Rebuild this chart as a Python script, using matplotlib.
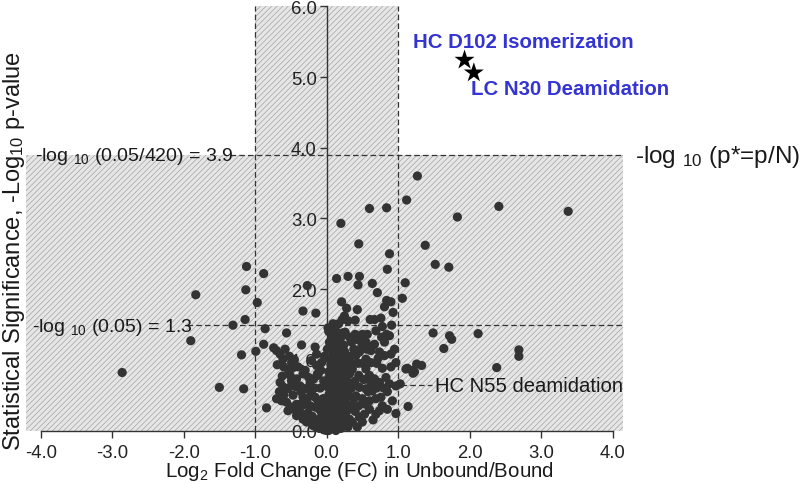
import matplotlib
matplotlib.use("Agg")
import matplotlib.pyplot as plt
from matplotlib.patches import Polygon

plt.rcParams['font.family'] = ['Liberation Sans', 'DejaVu Sans']
plt.rcParams['mathtext.fontset'] = 'custom'
plt.rcParams['mathtext.rm'] = 'Liberation Sans'
plt.rcParams['mathtext.it'] = 'Liberation Sans'
plt.rcParams['mathtext.bf'] = 'Liberation Sans:bold'
plt.rcParams['mathtext.default'] = 'regular'
plt.rcParams['hatch.color'] = '#a3a3a3'
plt.rcParams['hatch.linewidth'] = 0.5

# ---------------- data: (log2 FC, -log10 p) ----------------
pts_outer = [
    (0.20, 2.93), (0.60, 3.14), (0.84, 3.15), (1.12, 3.26), (1.27, 3.60), (1.83, 3.02), (2.41, 3.17), (3.38, 3.10),
    (0.45, 2.64), (0.88, 2.50), (0.85, 2.28), (1.38, 2.62), (1.52, 2.35), (1.71, 2.31), (1.10, 2.09), (1.06, 1.87),
    (1.49, 1.38), (1.72, 1.34), (1.75, 1.29), (2.12, 1.37), (1.64, 1.16), (2.69, 1.14), (2.69, 1.05), (2.38, 0.89),
    (1.13, 0.88), (1.23, 0.83), (1.26, 0.94), (1.33, 0.92), (1.21, 0.81), (1.14, 0.34), (1.03, 0.66),
    (1.11, 0.87), (1.20, 0.85),
]
pts_right = [
    (0.14, 2.15), (0.30, 2.18), (0.46, 2.18), (0.44, 2.06), (0.64, 2.08), (0.71, 1.95), (0.84, 1.84), (0.90, 1.82),
    (0.81, 1.75), (0.21, 1.82), (0.28, 1.73), (0.43, 1.71), (0.25, 1.62), (0.22, 1.57), (0.40, 1.56), (0.61, 1.57),
    (0.67, 1.57), (0.76, 1.59), (0.17, 1.51), (0.78, 1.47), (0.91, 1.49), (0.93, 1.67), (0.30, 1.55), (0.09, 1.51),
    (0.14, 1.39), (0.20, 1.32), (0.26, 1.39), (0.08, 1.29), (0.32, 1.32), (0.40, 1.36), (0.50, 1.36), (0.57, 1.36),
    (0.69, 1.41), (0.88, 1.34), (0.81, 1.25), (0.67, 1.22), (0.49, 1.18), (0.56, 1.15), (0.65, 1.20), (0.77, 1.32),
    (0.84, 1.36), (0.62, 1.13), (0.74, 1.11), (0.81, 1.06), (0.90, 1.08), (0.97, 0.96), (0.46, 1.11), (0.41, 1.06),
    (0.55, 1.01), (0.62, 0.96), (0.13, 1.11), (0.22, 1.04), (0.29, 1.01),
    (0.36, 0.87), (0.55, 0.87), (0.60, 0.78), (0.67, 0.73), (0.74, 0.68), (0.88, 0.66), (0.97, 0.63), (0.46, 0.61),
    (0.55, 0.59), (0.64, 0.56), (0.41, 0.49), (0.50, 0.45), (0.60, 0.42), (0.69, 0.45), (0.76, 0.47), (0.92, 0.42),
    (0.97, 0.24), (0.78, 0.35), (0.74, 0.28), (0.69, 0.23), (0.60, 0.30), (0.53, 0.23), (0.46, 0.19), (0.27, 0.26),
    (0.32, 0.16), (0.36, 0.12),
    (0.35, 1.25), (0.45, 1.28), (0.55, 1.25), (0.38, 1.15), (0.33, 1.05), (0.50, 0.95), (0.70, 0.95), (0.78, 0.88),
    (0.45, 0.78), (0.52, 0.72), (0.40, 0.70), (0.80, 0.60), (0.85, 0.55), (0.70, 0.60), (0.45, 0.35), (0.55, 0.37),
    (0.40, 0.27), (0.65, 0.15), (0.50, 0.12), (0.43, 0.05), (0.85, 0.30), (0.62, 0.68), (0.72, 1.02), (0.35, 0.95),
    (0.44, 0.95), (0.58, 0.55), (0.90, 0.90), (0.95, 1.15), (0.83, 0.75), (0.35, 0.35),
]
pts_core = [
    (0.05, 1.22), (0.12, 1.18), (0.18, 1.12), (0.04, 1.02), (0.15, 0.96), (0.22, 0.90), (0.08, 0.86), (0.17, 0.80),
    (0.03, 0.74), (0.12, 0.70), (0.20, 0.64), (0.07, 0.60), (0.15, 0.55), (0.24, 0.50), (0.02, 0.48), (0.10, 0.44),
    (0.18, 0.40), (0.05, 0.36), (0.13, 0.31), (0.22, 0.30), (0.00, 0.26), (0.08, 0.21), (0.16, 0.19), (0.03, 0.13),
    (0.10, 0.10), (-0.03, 0.06), (0.05, 0.03), (-0.08, 0.10), (-0.10, 0.03), (0.12, 0.03), (0.00, 0.00), (-0.05, 0.17),
    (0.20, 0.12), (0.25, 0.20), (0.28, 0.37), (0.30, 0.55), (0.27, 0.70), (0.10, 1.30), (0.03, 1.40), (0.15, 0.25),
    (0.06, 0.08), (-0.02, 0.12), (0.02, 0.20), (0.08, 0.65), (0.20, 0.85), (0.10, 0.95), (0.32, 0.80), (0.35, 0.60),
    (0.38, 0.45), (0.30, 0.05), (0.20, 0.03), (-0.15, 0.05), (-0.12, 0.15), (0.18, 0.55), (0.10, 0.75),
    (0.02, 1.45), (0.07, 1.36), (0.12, 1.42), (0.18, 1.28), (0.24, 1.21), (0.01, 1.15), (0.09, 1.08), (0.16, 1.03),
    (0.25, 1.12), (0.06, 0.93), (0.13, 0.88), (0.27, 0.95), (0.03, 0.83), (0.11, 0.78), (0.24, 0.78), (0.05, 0.69),
    (0.16, 0.67), (0.27, 0.62), (0.01, 0.62), (0.11, 0.57), (0.21, 0.55), (0.04, 0.52), (0.14, 0.47), (0.26, 0.44),
    (0.07, 0.41), (0.21, 0.38), (0.00, 0.38), (0.10, 0.33), (0.17, 0.29), (0.28, 0.27), (0.03, 0.27), (0.12, 0.22),
    (0.21, 0.22), (0.06, 0.16), (0.15, 0.14), (0.24, 0.10), (0.00, 0.09), (0.09, 0.05), (0.17, 0.06), (-0.04, 0.01),
    (0.03, 0.00), (0.13, 0.00), (-0.07, 0.05), (-0.02, 0.20), (-0.06, 0.28), (0.08, 0.13), (0.19, 0.47), (0.09, 0.50),
    (0.29, 0.50), (0.31, 0.68), (0.19, 0.73), (0.08, 0.72), (0.20, 0.95), (0.10, 1.00), (0.04, 1.25), (0.14, 1.30),
    (0.22, 1.38), (0.06, 0.98), (0.15, 1.20), (0.24, 0.87),
]
pts_left = [
    (-1.83, 1.92), (-1.90, 1.27), (-2.86, 0.82), (-1.50, 0.61), (-1.31, 1.49), (-1.12, 2.32), (-0.88, 2.22),
    (-1.13, 1.99), (-0.97, 1.81), (-1.14, 1.57), (-0.86, 1.44), (-0.33, 1.69), (-0.15, 1.66), (-0.27, 2.05),
    (-0.56, 1.38), (-0.88, 1.22), (-1.19, 1.07), (-0.99, 1.12), (-0.74, 1.17), (-0.69, 0.93), (-0.35, 1.21),
    (-1.16, 0.59), (-0.84, 0.32), (-0.33, 0.80), (-0.12, 0.78), (-0.07, 0.96),
    (-0.70, 1.13), (-0.65, 1.08), (-0.61, 1.01), (-0.49, 0.96), (-0.47, 0.89), (-0.51, 0.78), (-0.49, 0.70),
    (-0.42, 0.73), (-0.65, 0.68), (-0.61, 0.62), (-0.54, 0.59), (-0.49, 0.64), (-0.37, 0.63), (-0.30, 0.59),
    (-0.21, 0.52), (-0.16, 0.47), (-0.56, 0.40), (-0.49, 0.33), (-0.42, 0.37), (-0.35, 0.35), (-0.54, 0.28),
    (-0.42, 0.21), (-0.37, 0.37), (-0.30, 0.37), (-0.23, 0.35), (-0.16, 0.33), (-0.33, 0.16), (-0.23, 0.12),
    (-0.19, 0.07), (-0.14, 0.92), (-0.13, 0.80), (-0.21, 0.99), (-0.16, 1.18), (-0.14, 1.08), (-0.23, 0.68),
    (-0.28, 0.59), (-0.09, 0.60), (-0.05, 0.45), (-0.10, 0.30), (-0.07, 0.25), (-0.26, 0.25),
    (-0.58, 1.15), (-0.52, 1.05), (-0.45, 1.00), (-0.40, 0.90), (-0.30, 0.85), (-0.25, 0.75), (-0.43, 0.62),
    (-0.33, 0.47), (-0.27, 0.45), (-0.47, 0.50), (-0.60, 0.50), (-0.66, 0.55), (-0.70, 0.45), (-0.63, 0.42),
    (-0.45, 0.30), (-0.38, 0.27), (-0.30, 0.22), (-0.20, 0.20), (-0.12, 0.42), (-0.17, 0.60), (-0.04, 0.70),
    (-0.08, 0.85), (-0.03, 1.05), (-0.28, 0.12), (-0.15, 0.10), (-0.10, 0.16), (-0.06, 0.36), (-0.36, 0.55),
    (-0.18, 0.73), (-0.53, 0.85), (-0.60, 0.90), (-0.62, 0.77),
]

star_x = [1.93, 2.06]
star_y = [5.24, 5.06]
star_labels = ["HC D102 Isomerization", "LC N30 Deamidation"]

fc_cut = 1.0
bonf_y = 3.9
p05_y = 1.49
x_ticks = [-4, -3, -2, -1, 0, 1, 2, 3, 4]
x_ticklabels = ["-4.0", "-3.0", "-2.0", "-1.0", "0.0", "1.0", "2.0", "3.0", "4.0"]
y_ticks = [0, 1, 2, 3, 4, 5, 6]
y_ticklabels = ["0.0", "1.0", "2.0", "3.0", "4.0", "5.0", "6.0"]

all_pts = pts_outer + pts_right + pts_core + pts_left
xs = [p[0] for p in all_pts]
ys = [p[1] for p in all_pts]

# ---------------- figure ----------------
fig = plt.figure(figsize=(8, 4.85), dpi=100)
ax = fig.add_axes([0.0285, 0.1103, 0.755, 0.8746])
ax.set_xlim(-4.25, 4.2)
ax.set_ylim(0, 6)

xl, xr = -4.2, 4.15
shade = Polygon([(xl, 0), (xr, 0), (xr, bonf_y), (fc_cut, bonf_y), (fc_cut, 6),
                 (-fc_cut, 6), (-fc_cut, bonf_y), (xl, bonf_y)],
                closed=True, facecolor='#e6e6e6', edgecolor='#a3a3a3', linewidth=0,
                hatch='//////', zorder=0)
ax.add_patch(shade)

dash = (0, (4.5, 2.5))
ax.plot([-fc_cut, -fc_cut], [0, 6], color='#333333', lw=0.9, ls=dash, zorder=1)
ax.plot([fc_cut, fc_cut], [0, 6], color='#333333', lw=0.9, ls=dash, zorder=1)
ax.plot([-1.35, xr], [bonf_y, bonf_y], color='#333333', lw=0.9, ls=dash, zorder=1)
ax.plot([-1.95, xr], [p05_y, p05_y], color='#333333', lw=0.9, ls=dash, zorder=1)

ax.scatter(xs, ys, s=44, color='#333333', edgecolors='none', zorder=3, clip_on=False)
ax.scatter(star_x, star_y, s=230, marker='*', color='black', edgecolors='none', zorder=4)

for s in ['top', 'right']:
    ax.spines[s].set_visible(False)
ax.spines['left'].set_position(('data', 0))
ax.spines['left'].set_bounds(0, 6)
ax.spines['bottom'].set_bounds(-4, 4)
for s in ['left', 'bottom']:
    ax.spines[s].set_color('#333333')
    ax.spines[s].set_linewidth(1.0)
    ax.spines[s].set_zorder(2)

ax.set_xticks(x_ticks)
ax.set_xticklabels(x_ticklabels)
ax.set_yticks(y_ticks)
ax.set_yticklabels(y_ticklabels)
ax.tick_params(axis='both', direction='out', length=5, width=1.0, color='#333333',
               labelsize=13.3, labelcolor='#222222')
ax.tick_params(axis='x', pad=4.5)
ax.tick_params(axis='y', pad=2)

txt_kw = dict(color='#1a1a1a', fontsize=14, va='center', ha='left')
ax.text(-4.08, 3.89, "-log $_{10}$ (0.05/420) = 3.9", **txt_kw)
ax.text(-4.12, 1.47, "-log $_{10}$ (0.05) = 1.3", **txt_kw)
ax.text(4.31, 3.88, "-log $_{10}$ (p*=p/N)", color='#1a1a1a', fontsize=17.5, va='center', ha='left')
ax.text(1.21, 5.50, star_labels[0], color='#3434d2', fontsize=14.7, fontweight='bold', va='center', ha='left')
ax.text(2.02, 4.84, star_labels[1], color='#3434d2', fontsize=14.7, fontweight='bold', va='center', ha='left')
ax.plot([1.04, 1.47], [0.64, 0.64], color='#333333', lw=0.9, ls=dash, zorder=2)
ax.text(1.52, 0.63, "HC N55 deamidation", color='#1a1a1a', fontsize=14.6, va='center', ha='left')

fig.text(359 / 800, 1 - 472 / 485, "Log$_2$ Fold Change (FC) in Unbound/Bound",
         fontsize=14.8, color='#1a1a1a', ha='center', va='center')
fig.text(14 / 800, 1 - 251 / 485, "Statistical Significance, -Log$_{10}$ p-value",
         fontsize=17, color='#1a1a1a', ha='center', va='center', rotation=90)

fig.savefig("out.png", dpi=100)
